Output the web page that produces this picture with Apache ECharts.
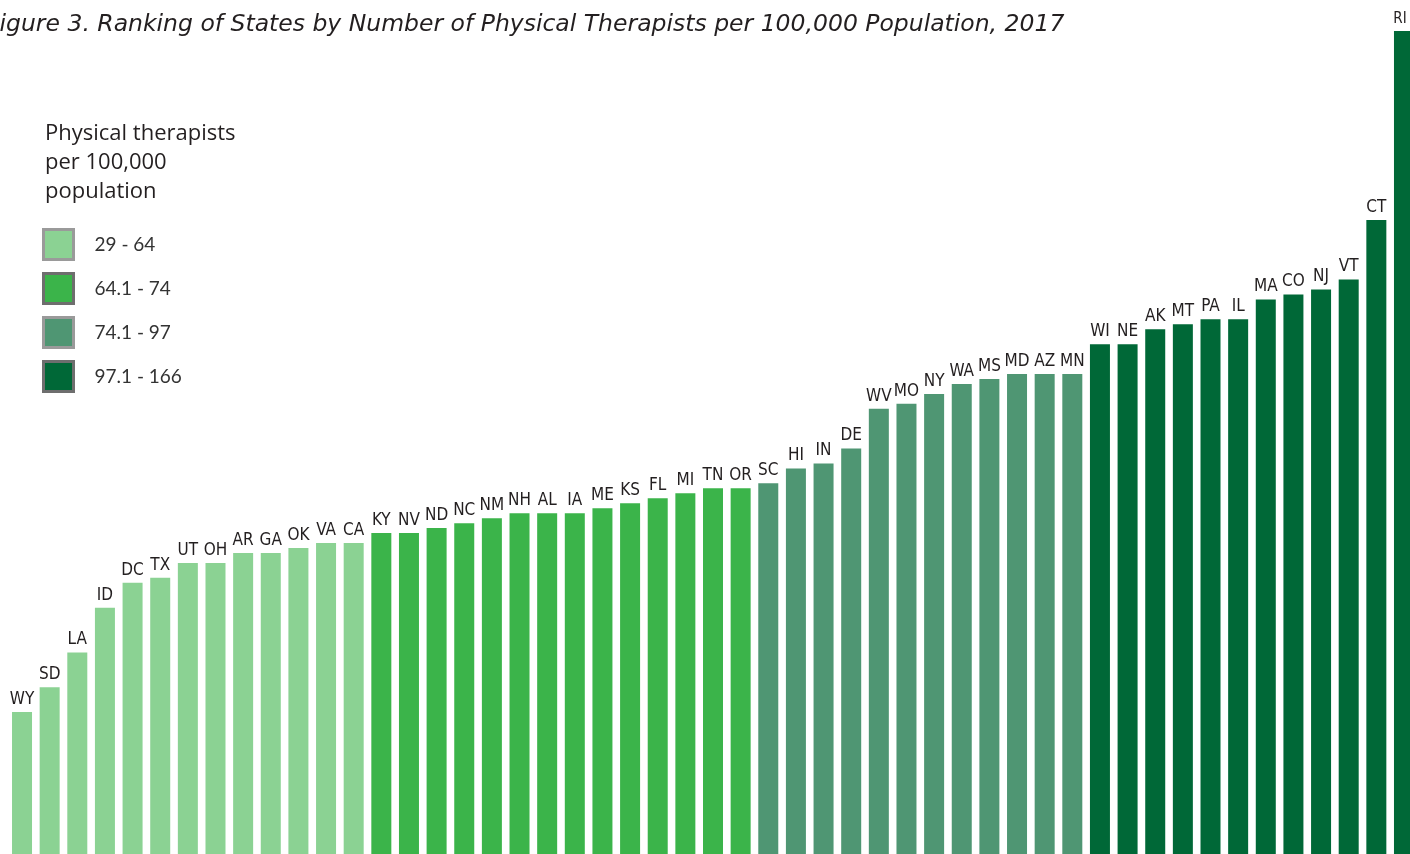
<!DOCTYPE html>
<html>
<head>
<meta charset="utf-8">
<script src="https://cdn.jsdelivr.net/npm/echarts@6/dist/echarts.min.js"></script>
<style>
html,body{margin:0;padding:0;background:#fff;}
#chart{width:1410px;height:854px;}
</style>
</head>
<body>
<div id="chart"></div>
<script>
const states = ['WY','SD','LA','ID','DC','TX','UT','OH','AR','GA','OK','VA','CA','KY','NV','ND','NC','NM','NH','AL','IA','ME','KS','FL','MI','TN','OR','SC','HI','IN','DE','WV','MO','NY','WA','MS','MD','AZ','MN','WI','NE','AK','MT','PA','IL','MA','CO','NJ','VT','CT','RI'];
const values = [29,34,41,50,55,56,59,59,61,61,62,63,63,65,65,66,67,68,69,69,69,70,71,72,73,74,74,75,78,79,82,90,91,93,95,96,97,97,97,103,103,106,107,108,108,112,113,114,116,128,166];
const classNames = ['29 - 64','64.1 - 74','74.1 - 97','97.1 - 166'];
const classUpper = [64,74,97,166];
const classColors = ['#8BD293','#3BB44A','#4F9673','#006837'];
const classBorders = ['#9a9a9a','#6e6e6e','#9a9a9a','#6e6e6e'];

function classOf(v){ for(let i=0;i<classUpper.length;i++){ if(v<=classUpper[i]) return i; } return classUpper.length-1; }

const labelFont = "'Liberation Sans Narrow','DejaVu Sans Condensed','Noto Sans',sans-serif";
const lastIndex = values.length - 1;

const series = classNames.map((name,ci)=>({
  name: name,
  type: 'bar',
  stack: 'all',
  barWidth: 20,
  itemStyle: {color: classColors[ci]},
  label: {
    show: true, position: 'top', distance: 4,
    color: '#231f20', fontSize: 17, fontFamily: labelFont,
    formatter: p => states[p.dataIndex]
  },
  data: values.map((v,i) => {
    if (classOf(v)!==ci) return '-';
    if (i===lastIndex) return {value: v, label: {show: true, position: 'top', distance: 4, color: '#231f20', fontFamily: labelFont, fontSize: 15, offset: [-4, 0]}};
    return v;
  })
}));

const chart = echarts.init(document.getElementById('chart'));
chart.setOption({
  animation: false,
  title: [{
    text: 'Figure 3. Ranking of States by Number of Physical Therapists per 100,000 Population, 2017',
    left: -14, top: 13, padding: 0,
    textStyle: {fontFamily: 'DejaVu Sans', fontStyle: 'italic', fontWeight: 'normal', fontSize: 23.5, color: '#231f20'}
  },{
    text: 'Physical therapists\nper 100,000\npopulation',
    left: 45, top: 119, padding: 0,
    textStyle: {fontFamily: 'Open Sans', fontWeight: 'normal', fontSize: 22, lineHeight: 29, color: '#231f20'}
  }],
  legend: {
    orient: 'vertical', left: 42, top: 228, padding: 0,
    itemWidth: 30, itemHeight: 30, itemGap: 11,
    icon: 'rect',
    textStyle: {fontFamily: 'Lato', fontSize: 19, color: '#333', padding: [0,0,0,16]},
    data: classNames.map((n,i)=>({name:n, itemStyle:{borderColor: classBorders[i], borderWidth: 3}}))
  },
  grid: {left: 8.2, width: 1409.6, top: 31, bottom: -2.2, containLabel: false, outerBoundsMode: 'none'},
  xAxis: {type: 'category', data: states, show: false},
  yAxis: {type: 'value', min: 0, max: 166, show: false, splitLine: {show: false}},
  series: series
});
</script>
</body>
</html>
